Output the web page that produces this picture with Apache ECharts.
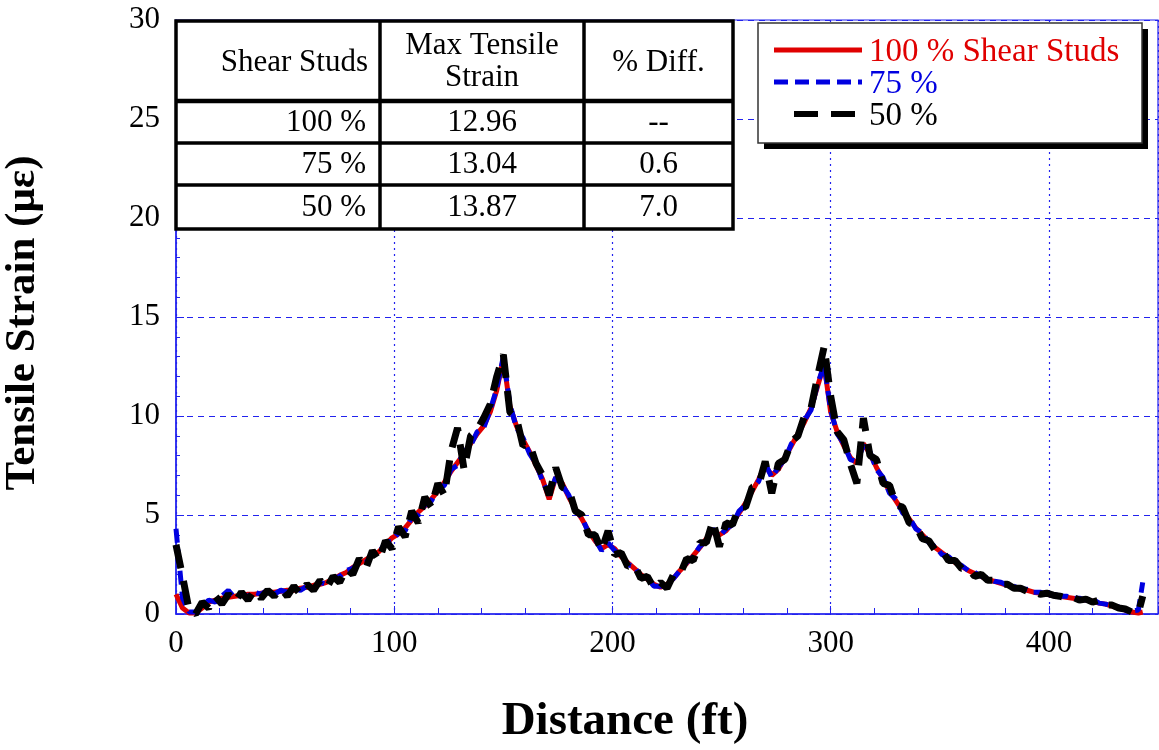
<!DOCTYPE html>
<html>
<head>
<meta charset="utf-8">
<script src="https://cdn.jsdelivr.net/npm/echarts@6/dist/echarts.min.js"></script>
<style>html,body{margin:0;padding:0;background:#fff;}#c{width:1159px;height:750px;}</style>
</head>
<body>
<div id="c"></div>
<script>
// ---- DATA ----
const distance = [0,3,6,9,12,15,18,21,24,27,30,33,36,39,42,45,48,51,54,57,60,63,66,69,72,75,78,81,84,87,90,93,96,99,102,105,108,111,114,117,120,123,126,129,132,135,138,141,144,147,150,153,156,159,162,165,168,171,174,177,180,183,186,189,192,195,198,201,204,207,210,213,216,219,222,225,228,231,234,237,240,243,246,249,252,255,258,261,264,267,270,273,276,279,282,285,288,291,294,297,300,303,306,309,312,315,318,321,324,327,330,333,336,339,342,345,348,351,354,357,360,363,366,369,372,375,378,381,384,387,390,393,396,399,402,405,408,411,414,417,420,423,426,429,432,435,438,441,443];
const studs100 = [1.0,0.3,0.05,0.05,0.3,0.6,0.7,0.8,0.85,0.9,0.95,1.0,1.0,1.05,1.1,1.1,1.15,1.2,1.2,1.3,1.35,1.45,1.5,1.6,1.75,1.95,2.1,2.35,2.55,2.75,2.95,3.15,3.5,3.85,4.05,4.35,4.75,5.15,5.45,5.8,6.2,6.65,7.2,7.65,8.1,8.6,9.1,9.5,10.2,11.3,12.9,10.5,9.5,8.8,8.2,7.5,6.8,5.8,6.9,6.6,5.9,5.3,4.8,4.2,3.7,3.3,3.5,3.3,2.9,2.6,2.3,2.0,1.75,1.5,1.35,1.5,1.8,2.2,2.55,2.95,3.35,3.8,4.2,4.0,4.2,4.6,5.1,5.6,6.2,6.8,7.5,7.0,7.3,7.9,8.5,9.1,9.7,10.4,11.5,12.6,10.2,9.2,8.5,7.9,7.6,8.6,8.1,7.4,6.8,6.2,5.7,5.2,4.8,4.35,4.0,3.65,3.35,3.1,2.85,2.6,2.4,2.2,2.05,1.9,1.75,1.65,1.55,1.45,1.35,1.25,1.2,1.1,1.05,1.0,0.95,0.9,0.85,0.8,0.75,0.7,0.65,0.55,0.5,0.4,0.3,0.2,0.1,0.05,0.1];
const studs75 = [4.3,0.8,0.1,0.1,0.4,0.7,0.6,0.9,1.2,0.8,1.0,0.9,1.1,1.0,1.2,1.0,1.2,1.1,1.3,1.2,1.4,1.3,1.6,1.5,1.8,1.9,2.2,2.3,2.6,2.6,3.0,3.1,3.6,3.7,4.1,4.2,4.9,5.0,5.5,5.7,6.3,6.5,7.3,7.5,8.2,8.5,9.2,9.4,10.3,11.4,13.0,10.6,9.4,8.9,8.1,7.6,6.7,6.0,6.9,6.5,6.0,5.2,4.9,4.1,3.8,3.2,3.6,3.2,3.0,2.5,2.4,1.9,1.8,1.4,1.4,1.5,1.8,2.2,2.6,2.9,3.4,3.7,4.3,3.9,4.3,4.5,5.2,5.5,6.3,6.7,7.6,6.9,7.4,7.8,8.6,9.0,9.8,10.3,11.6,12.6,10.3,9.1,8.6,7.8,7.7,8.5,8.2,7.3,6.9,6.1,5.8,5.1,4.9,4.3,4.1,3.6,3.4,3.0,2.9,2.6,2.45,2.2,2.1,1.9,1.8,1.65,1.6,1.45,1.4,1.25,1.25,1.1,1.1,1.0,1.0,0.9,0.9,0.8,0.8,0.7,0.75,0.55,0.5,0.4,0.35,0.2,0.15,0.2,1.6];
const studs50 = [3.5,1.9,0.2,0.0,0.6,0.3,0.9,0.5,1.0,0.6,1.1,0.7,1.2,0.8,1.2,0.9,1.3,0.9,1.4,1.0,1.5,1.2,1.7,1.3,1.9,1.6,2.3,2.0,2.8,2.3,3.2,2.7,3.7,3.3,4.4,3.9,5.2,4.6,5.9,5.4,6.6,6.0,8.2,9.4,7.3,9.0,9.3,9.9,10.6,12.0,13.1,10.2,9.9,8.5,8.6,7.6,7.0,6.0,7.4,6.4,6.3,5.2,5.0,4.0,4.0,3.2,4.2,3.0,3.1,2.4,2.5,1.8,1.9,1.3,1.6,1.3,2.0,2.0,2.8,2.7,3.6,3.6,4.7,3.4,4.6,4.5,5.4,5.4,6.4,6.5,7.7,6.1,7.6,7.8,8.7,9.0,10.0,10.4,12.0,13.5,11.0,9.2,8.8,7.6,6.6,9.9,8.0,7.8,6.6,6.5,5.5,5.4,4.6,4.5,3.8,3.7,3.2,3.2,2.7,2.7,2.3,2.3,1.9,2.0,1.7,1.7,1.5,1.5,1.3,1.3,1.15,1.15,1.0,1.05,0.95,0.9,0.8,0.85,0.7,0.75,0.6,0.7,0.45,0.45,0.3,0.25,0.1,0.05,0.9];
const xTicks = [0,100,200,300,400];
const yTicks = [0,5,10,15,20,25,30];
const seriesNames = ['100 % Shear Studs','75 %','50 %'];
const tableHeader = ['Shear Studs','Max Tensile\nStrain','% Diff.'];
const tableStuds = ['100 %','75 %','50 %'];
const tableMax = ['12.96','13.04','13.87'];
const tableDiff = ['--','0.6','7.0'];

// ---- CHART ----
const SERIF = '"Liberation Serif","DejaVu Serif",serif';
const GRIDBLUE = '#2222ee';
const pairs = arr => distance.map((d,i)=>[d,arr[i]]);

const colX = [176, 380, 584, 733];
const rowY = [21, 101, 143, 185, 229];
const graphics = [];
graphics.push({type:'rect', shape:{x:colX[0],y:rowY[0],width:colX[3]-colX[0],height:rowY[4]-rowY[0]}, style:{fill:'#fff',stroke:'#000',lineWidth:3.5}, z:100});
for (let i=1;i<3;i++) graphics.push({type:'line', shape:{x1:colX[i],y1:rowY[0],x2:colX[i],y2:rowY[4]}, style:{stroke:'#000',lineWidth:3.5}, z:101});
for (let j=1;j<4;j++) graphics.push({type:'line', shape:{x1:colX[0],y1:rowY[j],x2:colX[3],y2:rowY[j]}, style:{stroke:'#000',lineWidth:j===1?4.5:3.5}, z:101});
const cellFont = {fontFamily:SERIF, fontSize:31, fill:'#000'};
graphics.push({type:'text', x:colX[1]-12, y:(rowY[0]+rowY[1])/2+2, style:Object.assign({text:tableHeader[0], align:'right', verticalAlign:'middle'},cellFont), z:102});
graphics.push({type:'text', x:(colX[1]+colX[2])/2, y:(rowY[0]+rowY[1])/2+1, style:Object.assign({text:tableHeader[1], align:'center', verticalAlign:'middle', lineHeight:32},cellFont), z:102});
graphics.push({type:'text', x:(colX[2]+colX[3])/2, y:(rowY[0]+rowY[1])/2+2, style:Object.assign({text:tableHeader[2], align:'center', verticalAlign:'middle'},cellFont), z:102});
for (let r=0;r<3;r++){
  const cy = (rowY[r+1]+rowY[r+2])/2+1;
  graphics.push({type:'text', x:colX[1]-14, y:cy, style:Object.assign({text:tableStuds[r], align:'right', verticalAlign:'middle'},cellFont), z:102});
  graphics.push({type:'text', x:(colX[1]+colX[2])/2, y:cy, style:Object.assign({text:tableMax[r], align:'center', verticalAlign:'middle'},cellFont), z:102});
  graphics.push({type:'text', x:(colX[2]+colX[3])/2, y:cy, style:Object.assign({text:tableDiff[r], align:'center', verticalAlign:'middle'},cellFont), z:102});
}
const LB = {x:758, y:23, w:384, h:120};
graphics.push({type:'rect', shape:{x:LB.x+6,y:LB.y+6,width:LB.w,height:LB.h}, style:{fill:'#000'}, z:100});
graphics.push({type:'rect', shape:{x:LB.x,y:LB.y,width:LB.w,height:LB.h}, style:{fill:'#fff',stroke:'#333',lineWidth:1.5}, z:101});
const legColors = ['#e00000','#0000e0','#000000'];
const legDash = [null,[14,7],[24,13]];
const legY = [50, 82, 114];
for (let k=0;k<3;k++){
  const x1 = k===2 ? 794 : 774;
  graphics.push({type:'line', shape:{x1:x1,y1:legY[k],x2:862,y2:legY[k]}, style:{stroke:legColors[k],lineWidth:k===2?6:5,lineDash:legDash[k]}, z:102});
  graphics.push({type:'text', x:869, y:legY[k]+2, style:{text:seriesNames[k], fill:legColors[k], fontFamily:SERIF, fontSize:33, align:'left', verticalAlign:'middle'}, z:102});
}

const chart = echarts.init(document.getElementById('c'), null, {renderer:'canvas'});
chart.setOption({
  animation:false,
  backgroundColor:'#fff',
  grid:{left:176, top:20, right:1, bottom:136, containLabel:false, outerBoundsMode:'none', show:true, borderColor:GRIDBLUE, borderWidth:1.2, backgroundColor:'#fff'},
  xAxis:{
    type:'value', min:0, max:450, interval:100,
    axisLine:{show:true, lineStyle:{color:GRIDBLUE, width:1.5}},
    axisTick:{show:true, inside:true, length:8, lineStyle:{color:GRIDBLUE}},
    minorTick:{show:true, splitNumber:5, length:6, lineStyle:{color:GRIDBLUE}},
    splitLine:{show:true, lineStyle:{color:GRIDBLUE, type:[2,4], width:1.2}},
    axisLabel:{color:'#000', fontFamily:SERIF, fontSize:31, margin:14,
      formatter: v => xTicks.indexOf(v)>=0 ? String(v) : ''},
    name:'Distance (ft)', nameLocation:'middle', nameGap:84,
    nameTextStyle:{color:'#000', fontFamily:SERIF, fontSize:47, fontWeight:'bold', padding:[0,84,0,0]}
  },
  yAxis:{
    type:'value', min:0, max:30, interval:5,
    axisLine:{show:true, lineStyle:{color:GRIDBLUE, width:1.5}},
    axisTick:{show:true, inside:true, length:8, lineStyle:{color:GRIDBLUE}},
    minorTick:{show:true, splitNumber:5, length:4, lineStyle:{color:GRIDBLUE}},
    splitLine:{show:true, lineStyle:{color:GRIDBLUE, type:[6,5], width:1.2}},
    axisLabel:{color:'#000', fontFamily:SERIF, fontSize:31, margin:16,
      formatter: v => yTicks.indexOf(v)>=0 ? String(v) : ''},
    name:'Tensile Strain (με)', nameLocation:'middle', nameGap:132, nameRotate:90,
    nameTextStyle:{color:'#000', fontFamily:SERIF, fontSize:43, fontWeight:'bold', padding:[0,12,0,0]}
  },
  series:[
    {name:seriesNames[0], type:'line', data:pairs(studs100), showSymbol:false, lineStyle:{color:legColors[0], width:5}, z:3},
    {name:seriesNames[1], type:'line', data:pairs(studs75), showSymbol:false, lineStyle:{color:legColors[1], width:5, type:[14,7]}, z:4},
    {name:seriesNames[2], type:'line', data:pairs(studs50), showSymbol:false, lineStyle:{color:legColors[2], width:7, type:[24,13]}, z:5}
  ],
  graphic:graphics
});
</script>
</body>
</html>
